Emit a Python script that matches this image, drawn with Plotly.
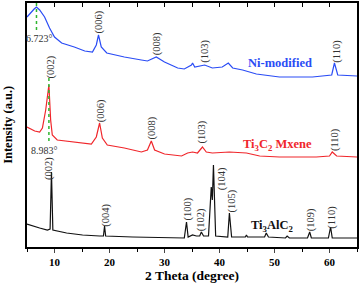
import plotly.graph_objects as go

# Ni-modified (blue) - 2theta, intensity (a.u.)
ni_x = [5.0, 5.3, 5.8, 6.3, 6.72, 7.3, 8.2, 9.1, 10.0, 11.3, 13.6, 15.5, 16.9, 17.6, 18.0, 18.5, 19.5,
        22.7, 25.8, 26.9, 28.5, 30.0, 32.4, 33.6, 34.9, 35.1, 35.5, 36.4, 37.3, 38.7, 40.5, 41.6, 42.4,
        44.2, 46.7, 50.9, 56.9, 60.4, 60.9, 61.5, 63.6, 65.0]
ni_y = [231, 233, 236, 239, 241, 238, 231, 220, 211, 205, 201, 197, 196, 203, 213, 201, 195,
        191, 188, 187, 191, 186, 180, 179, 183, 185, 181, 182, 183, 180, 181, 185, 180,
        178, 174, 171, 171, 173, 185, 173, 172, 172]

# Ti3C2 Mxene (red)
mx_x = [5.0, 5.3, 6.4, 7.3, 7.8, 8.4, 8.98, 9.3, 9.6, 10.5, 13.6, 16.7, 17.6, 18.2, 18.7, 19.6,
        22.7, 25.8, 26.9, 27.6, 28.2, 30.0, 33.1, 34.2, 35.1, 36.0, 36.9, 37.6, 38.7, 41.8, 44.9,
        47.3, 50.9, 57.6, 60.0, 60.5, 61.3, 65.0]
mx_y = [121, 120, 117, 116, 120, 138, 163, 128, 113, 108, 106, 104, 111, 125, 110, 103,
        100, 96, 98, 107, 98, 94, 92, 95, 96, 95, 101, 96, 95, 96, 95,
        92, 91, 91, 92, 96, 92, 91]

# Ti3AlC2 (black)
al_x = [5.0, 6.0, 7.3, 8.7, 9.2, 9.45, 9.7, 12.2, 15.1, 18.2, 18.9, 19.1, 19.3, 24.2, 30.4, 33.6,
        34.0, 34.3, 35.1, 35.8, 36.4, 36.7, 37.1, 38.0, 38.5, 38.7, 38.9, 39.3, 41.5, 41.8, 42.2,
        44.7, 44.9, 45.1, 48.2, 48.5, 48.9, 52.0, 52.3, 52.7, 56.0, 56.4, 56.7, 59.8, 60.2, 60.5, 65.0]
al_y = [24, 22, 20, 18, 19, 76, 18, 15, 13, 12, 12, 22, 12, 11, 10, 10,
        26, 11, 13, 12, 12, 16, 12, 12, 61, 48, 83, 12, 11, 35, 11,
        11, 13, 11, 11, 15, 11, 10, 12, 10, 10, 16, 10, 10, 21, 10, 10]

# Peak labels: (text, 2theta, intensity)
peak_labels = [
    ("(006)", 18.0, 226), ("(008)", 28.7, 204), ("(103)", 37.3, 197), ("(110)", 61.3, 197),
    ("(002)", 9.45, 181), ("(006)", 18.5, 137), ("(008)", 27.8, 120), ("(103)", 36.9, 116), ("(110)", 61.0, 108),
    ("(002)", 9.0, 79), ("(004)", 19.3, 33), ("(100)", 34.2, 39), ("(102)", 36.7, 28), ("(104)", 40.5, 69),
    ("(105)", 42.2, 47), ("(109)", 56.7, 28), ("(110)", 60.4, 31),
]
series_names = ["Ni-modified", "Ti<sub>3</sub>C<sub>2</sub> Mxene", "Ti<sub>3</sub>AlC<sub>2</sub>"]
series_label_pos = [(51.0, 185), (50.5, 103), (49.5, 22)]
series_colors = ["#2a4cf5", "#f0262b", "#111111"]
mark_x = [6.723, 8.983]
mark_y = [(245, 216), (170, 106)]
mark_text = ["6.723°", "8.983°"]
mark_text_pos = [(7.3, 210), (8.2, 98)]

FONT = "Liberation Serif"
fig = go.Figure()
for xs, ys, c in [(ni_x, ni_y, series_colors[0]), (mx_x, mx_y, series_colors[1]), (al_x, al_y, series_colors[2])]:
    fig.add_trace(go.Scatter(x=xs, y=ys, mode="lines", line=dict(color=c, width=1.2), showlegend=False))

for mx, (y0, y1) in zip(mark_x, mark_y):
    fig.add_trace(go.Scatter(x=[mx, mx], y=[y0, y1], mode="lines",
                             line=dict(color="#2fb52f", width=1.5, dash="dot"), showlegend=False))

ann = []
for t, x, y in peak_labels:
    ann.append(dict(x=x, y=y, text=t, showarrow=False, textangle=-90,
                    font=dict(family=FONT, size=10.5, color="#333333")))
for name, (x, y), c in zip(series_names, series_label_pos, series_colors):
    ann.append(dict(x=x, y=y, text="<b>" + name + "</b>", showarrow=False,
                    font=dict(family=FONT, size=12.5, color=c)))
for t, (x, y) in zip(mark_text, mark_text_pos):
    ann.append(dict(x=x, y=y, text=t, showarrow=False, font=dict(family=FONT, size=10, color="#333333")))
# axis titles
ann.append(dict(xref="paper", yref="paper", x=0.5, y=-0.118, yanchor="middle", text="<b>2 Theta (degree)</b>",
                showarrow=False, font=dict(family=FONT, size=13.5, color="black")))
ann.append(dict(xref="paper", yref="paper", x=-0.058, y=0.5, xanchor="center", text="<b>Intensity (a.u.)</b>",
                textangle=-90, showarrow=False, font=dict(family=FONT, size=12.5, color="black")))

fig.update_layout(
    width=360, height=285,
    margin=dict(l=27, r=3, t=3, b=38, autoexpand=False),
    paper_bgcolor="white", plot_bgcolor="white",
    font=dict(family=FONT, color="black"),
    annotations=ann,
    xaxis=dict(range=[5, 65], dtick=10, tick0=0, ticks="outside", ticklen=4, tickwidth=1,
               showline=True, linecolor="black", linewidth=1.5, mirror=True, showgrid=False, zeroline=False,
               tickfont=dict(family=FONT, size=11, color="black"), automargin=False,
               tickprefix="<b>", ticksuffix="</b>",
               minor=dict(dtick=5, tick0=0, ticks="outside", ticklen=3, tickcolor="black")),
    xaxis2=dict(range=[5, 65], overlaying="x", side="top", dtick=5, tick0=0, ticks="inside", ticklen=4,
                tickcolor="black", showticklabels=False, showline=False, showgrid=False, zeroline=False,
                automargin=False),
    yaxis=dict(range=[1, 245], showticklabels=False, ticks="", showline=True, linecolor="black",
               linewidth=1.5, mirror=True, showgrid=False, zeroline=False, automargin=False),
)
fig.add_trace(go.Scatter(x=[5], y=[1], xaxis="x2", mode="markers", marker=dict(opacity=0),
                         showlegend=False, hoverinfo="skip"))
fig.write_html("out.html", config={"displayModeBar": False},
               post_script="document.body.style.margin='0';document.body.style.overflow='hidden';")
